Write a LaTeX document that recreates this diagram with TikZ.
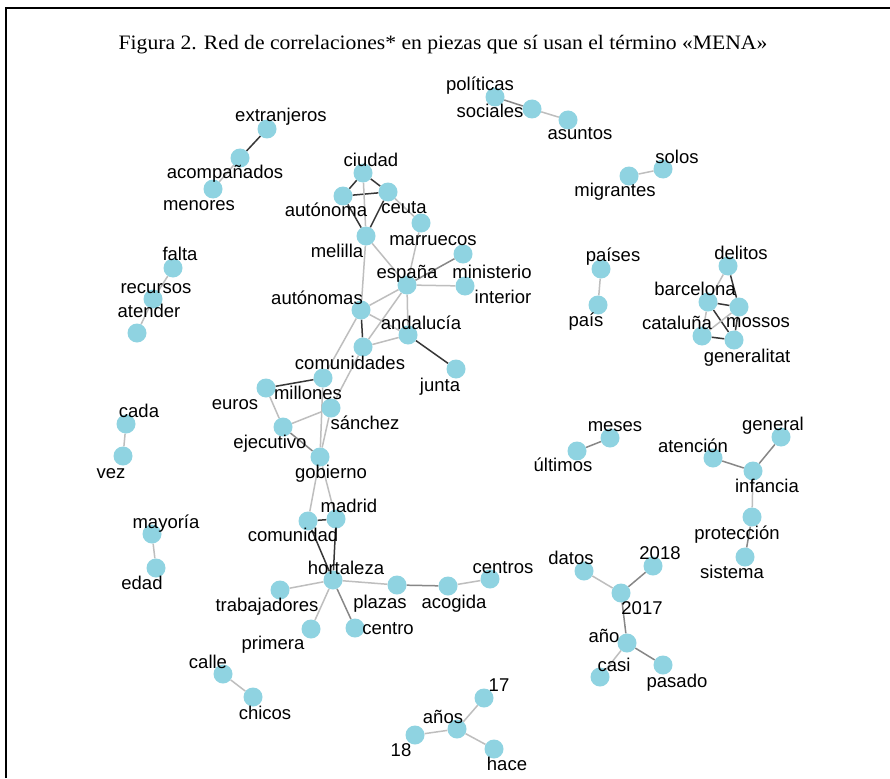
\documentclass[tikz,border=0pt]{standalone}
\usepackage{fontspec}
\setmainfont{Liberation Serif}
\newfontfamily\lblfont{Liberation Sans}
\definecolor{nodeblue}{RGB}{143,211,225}
\definecolor{edgedark}{RGB}{55,55,55}
\definecolor{edgemid}{RGB}{135,135,135}
\definecolor{edgelight}{RGB}{190,190,190}
\pgfdeclarelayer{bg}
\pgfdeclarelayer{paper}
\pgfsetlayers{paper,bg,main}
\tikzset{
  wnode/.style={circle,fill=nodeblue,draw=none,minimum size=19pt,inner sep=0pt},
  wlabel/.style={font=\lblfont\fontsize{18.5}{20}\selectfont,inner sep=0pt,text height=1.2em,text depth=0pt,anchor=center},
  ed/.style={edgedark,line width=1.5pt},
  em/.style={edgemid,line width=1.5pt},
  el/.style={edgelight,line width=1.5pt}
}
\begin{document}
\begin{tikzpicture}[x=1pt,y=-1pt]
\useasboundingbox (0,0) rectangle (890,778);
\begin{pgfonlayer}{paper}
\fill[white] (0,0) rectangle (890,778);
\end{pgfonlayer}
\draw[line width=2pt,black] (6,778) -- (6,8) -- (890,8);
\node[font=\fontsize{20.5}{22}\selectfont,inner sep=0pt,xscale=1.055] (title) at (443,45) {Figura 2. Red de correlaciones* en piezas que sí usan el término «MENA»};

% nodes
\node[wnode] (extranjeros) at (267,129) {};
\node[wnode] (acompanados) at (240,158) {};
\node[wnode] (menores) at (213,189) {};
\node[wnode] (falta) at (173,268) {};
\node[wnode] (recursos) at (153,299) {};
\node[wnode] (atender) at (137,333) {};
\node[wnode] (ciudad) at (363,173) {};
\node[wnode] (autonoma) at (343,196) {};
\node[wnode] (ceuta) at (388,192) {};
\node[wnode] (marruecos) at (421,223) {};
\node[wnode] (melilla) at (366,236) {};
\node[wnode] (ministerio) at (463,254) {};
\node[wnode] (interior) at (465,286) {};
\node[wnode] (espana) at (407,285) {};
\node[wnode] (autonomas) at (361,310) {};
\node[wnode] (andalucia) at (408,335) {};
\node[wnode] (comunidades) at (363,347) {};
\node[wnode] (junta) at (456,369) {};
\node[wnode] (millones) at (323,378) {};
\node[wnode] (euros) at (266,388) {};
\node[wnode] (sanchez) at (331,408) {};
\node[wnode] (ejecutivo) at (283,427) {};
\node[wnode] (gobierno) at (320,457) {};
\node[wnode] (madrid) at (336,519) {};
\node[wnode] (comunidad) at (308,521) {};
\node[wnode] (hortaleza) at (333,580) {};
\node[wnode] (trabajadores) at (280,590) {};
\node[wnode] (plazas) at (397,585) {};
\node[wnode] (acogida) at (448,586) {};
\node[wnode] (centros) at (490,579) {};
\node[wnode] (primera) at (311,629) {};
\node[wnode] (centro) at (355,628) {};
\node[wnode] (calle) at (223,674) {};
\node[wnode] (chicos) at (253,697) {};
\node[wnode] (n17) at (484,698) {};
\node[wnode] (anos) at (457,729) {};
\node[wnode] (n18) at (415,735) {};
\node[wnode] (hace) at (494,749) {};
\node[wnode] (politicas) at (495,97) {};
\node[wnode] (sociales) at (532,109) {};
\node[wnode] (asuntos) at (568,120) {};
\node[wnode] (solos) at (663,169) {};
\node[wnode] (migrantes) at (629,176) {};
\node[wnode] (paises) at (601,269) {};
\node[wnode] (pais) at (598,305) {};
\node[wnode] (delitos) at (728,266) {};
\node[wnode] (barcelona) at (708,302) {};
\node[wnode] (mossos) at (739,307) {};
\node[wnode] (cataluna) at (702,336) {};
\node[wnode] (generalitat) at (734,340) {};
\node[wnode] (meses) at (610,438) {};
\node[wnode] (ultimos) at (577,451) {};
\node[wnode] (atencion) at (713,458) {};
\node[wnode] (general) at (781,437) {};
\node[wnode] (infancia) at (753,471) {};
\node[wnode] (proteccion) at (752,517) {};
\node[wnode] (sistema) at (745,557) {};
\node[wnode] (datos) at (584,571) {};
\node[wnode] (n2018) at (653,566) {};
\node[wnode] (n2017) at (621,593) {};
\node[wnode] (ano) at (627,643) {};
\node[wnode] (casi) at (600,677) {};
\node[wnode] (pasado) at (663,665) {};
\node[wnode] (cada) at (126,424) {};
\node[wnode] (vez) at (123,456) {};
\node[wnode] (mayoria) at (152,534) {};
\node[wnode] (edad) at (156,568) {};

% edges
\begin{pgfonlayer}{bg}
\draw[ed] (extranjeros) -- (acompanados);
\draw[el] (acompanados) -- (menores);
\draw[el] (falta) -- (recursos);
\draw[el] (recursos) -- (atender);
\draw[ed] (ciudad) -- (autonoma);
\draw[ed] (ciudad) -- (ceuta);
\draw[ed] (autonoma) -- (ceuta);
\draw[el] (ciudad) -- (melilla);
\draw[ed] (autonoma) -- (melilla);
\draw[ed] (ceuta) -- (melilla);
\draw[el] (ceuta) -- (marruecos);
\draw[el] (melilla) -- (espana);
\draw[el] (melilla) -- (autonomas);
\draw[el] (marruecos) -- (espana);
\draw[em] (espana) -- (ministerio);
\draw[el] (espana) -- (interior);
\draw[el] (espana) -- (autonomas);
\draw[el] (espana) -- (andalucia);
\draw[el] (espana) -- (comunidades);
\draw[ed] (autonomas) -- (comunidades);
\draw[el] (autonomas) -- (andalucia);
\draw[el] (andalucia) -- (comunidades);
\draw[ed] (andalucia) -- (junta);
\draw[el] (autonomas) -- (millones);
\draw[el] (comunidades) -- (sanchez);
\draw[ed] (millones) -- (euros);
\draw[el] (euros) -- (ejecutivo);
\draw[el] (ejecutivo) -- (sanchez);
\draw[em] (ejecutivo) -- (gobierno);
\draw[el] (millones) -- (gobierno);
\draw[el] (sanchez) -- (gobierno);
\draw[el] (gobierno) -- (comunidad);
\draw[el] (gobierno) -- (madrid);
\draw[ed] (comunidad) -- (madrid);
\draw[ed] (comunidad) -- (hortaleza);
\draw[ed] (madrid) -- (hortaleza);
\draw[el] (hortaleza) -- (trabajadores);
\draw[el] (hortaleza) -- (plazas);
\draw[el] (hortaleza) -- (primera);
\draw[em] (hortaleza) -- (centro);
\draw[em] (plazas) -- (acogida);
\draw[el] (acogida) -- (centros);
\draw[el] (calle) -- (chicos);
\draw[el] (anos) -- (n17);
\draw[el] (anos) -- (n18);
\draw[el] (anos) -- (hace);
\draw[el] (cada) -- (vez);
\draw[el] (mayoria) -- (edad);
\draw[em] (politicas) -- (sociales);
\draw[el] (sociales) -- (asuntos);
\draw[el] (migrantes) -- (solos);
\draw[el] (paises) -- (pais);
\draw[el] (delitos) -- (barcelona);
\draw[ed] (delitos) -- (mossos);
\draw[ed] (barcelona) -- (mossos);
\draw[ed] (barcelona) -- (generalitat);
\draw[el] (barcelona) -- (cataluna);
\draw[el] (cataluna) -- (mossos);
\draw[ed] (cataluna) -- (generalitat);
\draw[ed] (mossos) -- (generalitat);
\draw[em] (meses) -- (ultimos);
\draw[em] (atencion) -- (infancia);
\draw[em] (general) -- (infancia);
\draw[el] (infancia) -- (proteccion);
\draw[em] (proteccion) -- (sistema);
\draw[el] (datos) -- (n2017);
\draw[em] (n2018) -- (n2017);
\draw[em] (n2017) -- (ano);
\draw[el] (ano) -- (casi);
\draw[em] (ano) -- (pasado);
\end{pgfonlayer}

% labels
\node[wlabel] (l-extranjeros) at (281,116) {extranjeros};
\node[wlabel] (l-acompanados) at (225,172) {acompañados};
\node[wlabel] (l-menores) at (199,204) {menores};
\node[wlabel] (l-ciudad) at (371,160) {ciudad};
\node[wlabel] (l-autonoma) at (326,210) {autónoma};
\node[wlabel] (l-ceuta) at (404,207) {ceuta};
\node[wlabel] (l-marruecos) at (433,239) {marruecos};
\node[wlabel] (l-melilla) at (337,251) {melilla};
\node[wlabel] (l-ministerio) at (492,272) {ministerio};
\node[wlabel] (l-interior) at (503,297) {interior};
\node[wlabel] (l-espana) at (407,272) {españa};
\node[wlabel] (l-autonomas) at (317,298) {autónomas};
\node[wlabel] (l-andalucia) at (421,323) {andalucía};
\node[wlabel] (l-comunidades) at (350,363) {comunidades};
\node[wlabel] (l-junta) at (440,385) {junta};
\node[wlabel] (l-millones) at (308,393) {millones};
\node[wlabel] (l-euros) at (235,403) {euros};
\node[wlabel] (l-sanchez) at (365,423) {sánchez};
\node[wlabel] (l-ejecutivo) at (270,442) {ejecutivo};
\node[wlabel] (l-gobierno) at (331,472) {gobierno};
\node[wlabel] (l-madrid) at (349,506) {madrid};
\node[wlabel] (l-comunidad) at (293,535) {comunidad};
\node[wlabel] (l-hortaleza) at (346,568) {hortaleza};
\node[wlabel] (l-trabajadores) at (267,605) {trabajadores};
\node[wlabel] (l-plazas) at (380,602) {plazas};
\node[wlabel] (l-acogida) at (454,602) {acogida};
\node[wlabel] (l-centros) at (503,567) {centros};
\node[wlabel] (l-primera) at (273,643) {primera};
\node[wlabel] (l-centro) at (388,628) {centro};
\node[wlabel] (l-calle) at (208,662) {calle};
\node[wlabel] (l-chicos) at (265,713) {chicos};
\node[wlabel] (l-17) at (499,685) {17};
\node[wlabel] (l-anos) at (443,717) {años};
\node[wlabel] (l-18) at (401,750) {18};
\node[wlabel] (l-hace) at (507,764) {hace};
\node[wlabel] (l-politicas) at (480,85) {políticas};
\node[wlabel] (l-sociales) at (490,112) {sociales};
\node[wlabel] (l-asuntos) at (580,134) {asuntos};
\node[wlabel] (l-solos) at (677,158) {solos};
\node[wlabel] (l-migrantes) at (615,190) {migrantes};
\node[wlabel] (l-paises) at (613,255) {países};
\node[wlabel] (l-pais) at (586,320) {país};
\node[wlabel] (l-delitos) at (741,253) {delitos};
\node[wlabel] (l-barcelona) at (695,289) {barcelona};
\node[wlabel] (l-mossos) at (758,321) {mossos};
\node[wlabel] (l-cataluna) at (677,323) {cataluña};
\node[wlabel] (l-generalitat) at (747,356) {generalitat};
\node[wlabel] (l-meses) at (615,425) {meses};
\node[wlabel] (l-ultimos) at (563,465) {últimos};
\node[wlabel] (l-atencion) at (693,446) {atención};
\node[wlabel] (l-general) at (773,424) {general};
\node[wlabel] (l-infancia) at (767,486) {infancia};
\node[wlabel] (l-proteccion) at (737,533) {protección};
\node[wlabel] (l-sistema) at (732,572) {sistema};
\node[wlabel] (l-datos) at (571,558) {datos};
\node[wlabel] (l-2018) at (660,553) {2018};
\node[wlabel] (l-2017) at (642,608) {2017};
\node[wlabel] (l-ano) at (604,636) {año};
\node[wlabel] (l-casi) at (614,665) {casi};
\node[wlabel] (l-pasado) at (677,681) {pasado};
\node[wlabel] (l-cada) at (139,411) {cada};
\node[wlabel] (l-vez) at (111,472) {vez};
\node[wlabel] (l-mayoria) at (166,522) {mayoría};
\node[wlabel] (l-edad) at (142,583) {edad};
\node[wlabel] (l-falta) at (180,254) {falta};
\node[wlabel] (l-recursos) at (156,287) {recursos};
\node[wlabel] (l-atender) at (149,311) {atender};
\end{tikzpicture}
\end{document}
